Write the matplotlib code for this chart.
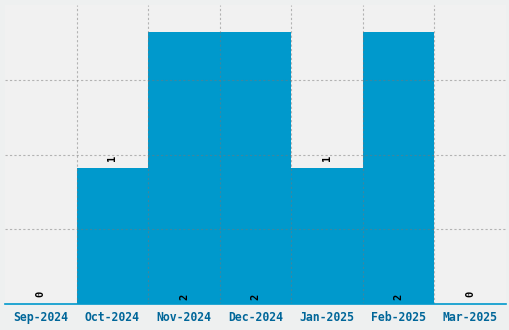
import matplotlib
matplotlib.use('Agg')
import matplotlib.pyplot as plt
import numpy as np

# data
months = ['Sep-2024', 'Oct-2024', 'Nov-2024', 'Dec-2024', 'Jan-2025', 'Feb-2025', 'Mar-2025']
counts = [0, 1, 2, 2, 1, 2, 0]

bar_color = '#0099cc'
tick_color = '#006699'

fig = plt.figure(figsize=(5.1, 3.3), dpi=100, facecolor='#eef0f0')
ax = fig.add_axes([5 / 510, 26 / 330, 501 / 510, 299 / 330])
ax.set_facecolor('#f1f1f1')

x = np.arange(len(months))
ax.bar(x, counts, width=1.0, color=bar_color, zorder=2)

ax.set_xlim(-0.5, len(months) - 0.5)
ax.set_ylim(0, 2.2)

# grid lines at category borders and every 0.55
for b in np.arange(0.5, len(months) - 0.5, 1.0):
    ax.axvline(b, color='#777777', linestyle=(0, (2, 2)), linewidth=0.8, alpha=0.5, zorder=3)
for g in [0.55, 1.1, 1.65]:
    ax.axhline(g, color='#777777', linestyle=(0, (2, 2)), linewidth=0.8, alpha=0.5, zorder=3)

# value labels
for xi, v in zip(x, counts):
    if v >= 2:
        y = 0.03
    else:
        y = v + 0.05
    ax.text(xi, y, str(v), rotation=90, ha='center', va='bottom', fontsize=7.5,
            family='DejaVu Sans Mono', weight='bold', color='black', zorder=4)

ax.set_xticks(x)
ax.set_xticklabels(months, family='DejaVu Sans Mono', weight='bold', fontsize=8.3, color=tick_color)
ax.tick_params(axis='x', length=0, pad=5)
ax.set_yticks([])

for s in ['top', 'right', 'left']:
    ax.spines[s].set_visible(False)
ax.spines['bottom'].set_color(bar_color)
ax.spines['bottom'].set_linewidth(1.2)
ax.spines['bottom'].set_zorder(5)

fig.savefig('out.png', dpi=100, facecolor=fig.get_facecolor())
